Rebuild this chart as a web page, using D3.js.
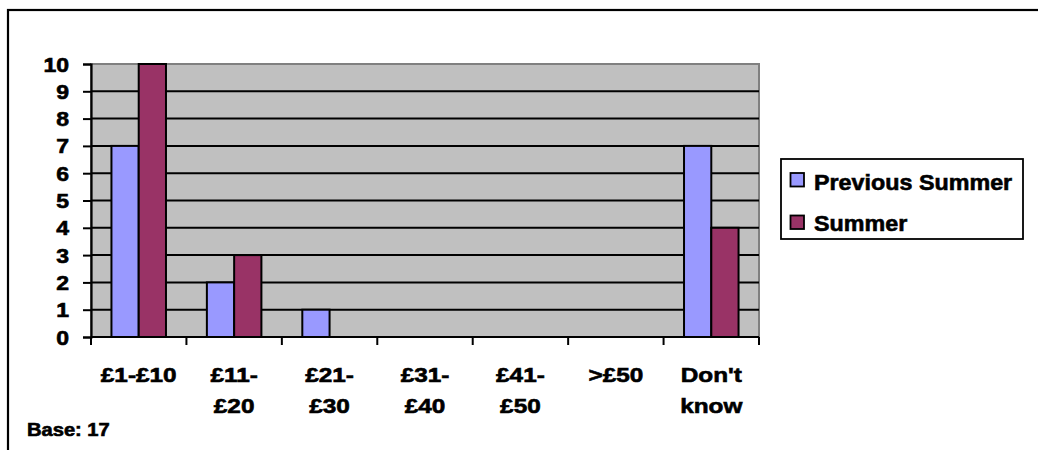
<!DOCTYPE html>
<html>
<head>
<meta charset="utf-8">
<script src="https://cdn.jsdelivr.net/npm/d3@7"></script>
<style>
  html, body { margin: 0; padding: 0; background: #fff; }
  svg { display: block; }
  text { font-family: "Liberation Sans", Arial, sans-serif; font-weight: bold; fill: #000; stroke: #000; stroke-width: 0.6px; }
</style>
</head>
<body>
<svg id="chart" width="1038" height="450"></svg>
<script>
// Spending bands (each label split into display lines)
const categories = ["£1-£10", "£11-£20", "£21-£30", "£31-£40", "£41-£50", ">£50", "Don't know"];
const categoryLines = [["£1-£10"], ["£11-", "£20"], ["£21-", "£30"], ["£31-", "£40"], ["£41-", "£50"], [">£50"], ["Don't", "know"]];
const seriesNames = ["Previous Summer", "Summer"];
const previousSummer = [7, 2, 1, 0, 0, 0, 7];
const summer = [10, 3, 0, 0, 0, 0, 4];
const yTicks = [0, 1, 2, 3, 4, 5, 6, 7, 8, 9, 10];
const baseNote = "Base: 17";

const seriesValues = [previousSummer, summer];
const colors = ["#9999FF", "#993366"];

const svg = d3.select("#chart");
const plot = { left: 91, top: 64, right: 759, bottom: 337 };

// Outer chart frame (extends past the right and bottom edges)
svg.append("rect")
  .attr("x", 8).attr("y", 10)
  .attr("width", 1040).attr("height", 460)
  .attr("fill", "#fff").attr("stroke", "#000").attr("stroke-width", 2.2);

const x = d3.scaleBand().domain(categories).range([plot.left, plot.right]).padding(0);
const xInner = d3.scaleBand().domain(seriesNames).range([0, x.bandwidth()])
  .paddingInner(0).paddingOuter(0.75);
const y = d3.scaleLinear().domain([0, 10]).range([plot.bottom, plot.top]);

// Plot background
svg.append("rect")
  .attr("x", plot.left).attr("y", plot.top)
  .attr("width", plot.right - plot.left).attr("height", plot.bottom - plot.top)
  .attr("fill", "#C0C0C0").attr("stroke", "#808080").attr("stroke-width", 2);

// Horizontal gridlines
svg.append("g").selectAll("line")
  .data(yTicks.filter(t => t > 0 && t < 10))
  .join("line")
  .attr("x1", plot.left).attr("x2", plot.right)
  .attr("y1", d => y(d)).attr("y2", d => y(d))
  .attr("stroke", "#000").attr("stroke-width", 2);

// Bars
const rows = [];
categories.forEach((c, i) => {
  seriesNames.forEach((s, j) => {
    rows.push({ category: c, series: s, value: seriesValues[j][i], color: colors[j] });
  });
});
svg.append("g").selectAll("rect")
  .data(rows.filter(d => d.value > 0))
  .join("rect")
  .attr("x", d => x(d.category) + xInner(d.series))
  .attr("y", d => y(d.value))
  .attr("width", xInner.bandwidth())
  .attr("height", d => y(0) - y(d.value))
  .attr("fill", d => d.color)
  .attr("stroke", "#000").attr("stroke-width", 2);

// Y axis
const yAxis = svg.append("g").attr("transform", `translate(${plot.left},0)`)
  .call(d3.axisLeft(y).tickValues(yTicks).tickSize(8).tickPadding(0).tickFormat(d3.format("d")));
yAxis.select(".domain").attr("stroke", "#000").attr("stroke-width", 2.2);
yAxis.selectAll(".tick line").attr("stroke", "#000").attr("stroke-width", 2);
yAxis.selectAll(".tick text").remove();
yAxis.selectAll(".tick").append("text")
  .attr("text-anchor", "end")
  .attr("font-size", 19.5)
  .attr("transform", "translate(-22,7) scale(1.18,1)")
  .text(d => d);

// X axis with ticks on category boundaries
const boundaries = categories.map(c => x(c)).concat([plot.right]);
svg.append("line")
  .attr("x1", plot.left).attr("x2", plot.right)
  .attr("y1", plot.bottom).attr("y2", plot.bottom)
  .attr("stroke", "#000").attr("stroke-width", 2.2);
svg.append("g").selectAll("line")
  .data(boundaries)
  .join("line")
  .attr("x1", d => d).attr("x2", d => d)
  .attr("y1", plot.bottom).attr("y2", plot.bottom + 8)
  .attr("stroke", "#000").attr("stroke-width", 2);

// Category labels
const catG = svg.append("g").selectAll("g")
  .data(categories)
  .join("g")
  .attr("transform", d => `translate(${x(d) + x.bandwidth() / 2},0)`);
catG.each(function (d, i) {
  const g = d3.select(this);
  categoryLines[i].forEach((line, k) => {
    g.append("text")
      .attr("text-anchor", "middle")
      .attr("font-size", 21)
      .attr("transform", `translate(0,${381.5 + k * 31}) scale(1.16,1)`)
      .text(line);
  });
});

// Base note
svg.append("text")
  .attr("font-size", 17.5)
  .attr("transform", "translate(27,436) scale(1.15,1)")
  .text(baseNote);

// Legend
const legend = svg.append("g");
legend.append("rect")
  .attr("x", 781).attr("y", 159).attr("width", 242).attr("height", 80)
  .attr("fill", "#fff").attr("stroke", "#000").attr("stroke-width", 1.8);
seriesNames.forEach((s, j) => {
  legend.append("rect")
    .attr("x", 790.5).attr("y", 173 + j * 42.5).attr("width", 13.5).attr("height", 13.5)
    .attr("fill", colors[j]).attr("stroke", "#000").attr("stroke-width", 1.8);
  legend.append("text")
    .attr("font-size", 22)
    .attr("transform", `translate(814,${190 + j * 40.5}) scale(1.06,1)`)
    .text(s);
});
</script>
</body>
</html>
